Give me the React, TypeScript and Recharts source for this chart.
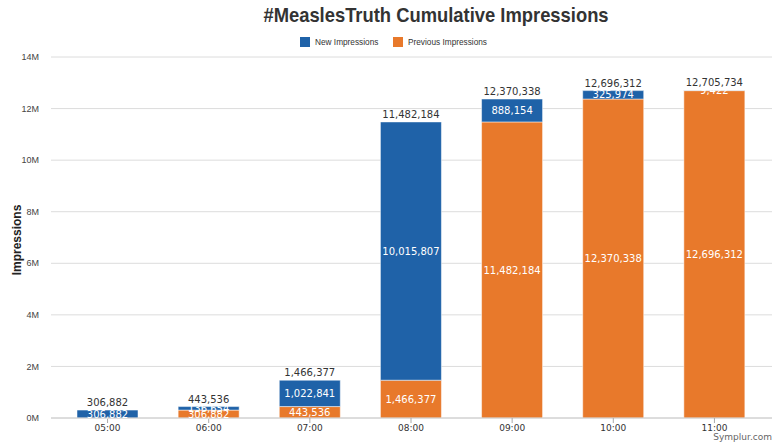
import { BarChart, Bar, XAxis, YAxis, CartesianGrid, LabelList } from 'recharts';

const hours = ['05:00', '06:00', '07:00', '08:00', '09:00', '10:00', '11:00'];
const previousImpressions = [0, 306882, 443536, 1466377, 11482184, 12370338, 12696312];
const newImpressions = [306882, 136654, 1022841, 10015807, 888154, 325974, 9422];
const yTicks = [0, 2000000, 4000000, 6000000, 8000000, 10000000, 12000000, 14000000];

const BLUE = '#1f62a8';
const ORANGE = '#e8792b';
const SANS = '"Liberation Sans", Arial, sans-serif';

const chartData = hours.map((hour, i) => ({
  hour,
  previous: previousImpressions[i],
  fresh: newImpressions[i],
  total: previousImpressions[i] + newImpressions[i],
}));

const fmt = (v: any) => (v ? Number(v).toLocaleString('en-US') : '');

function LegendItem({ color, text, x }: { color: string; text: string; x: number }) {
  return (
    <>
      <span style={{ position: 'absolute', left: x, top: 37, width: 10, height: 10, background: color }} />
      <span
        style={{
          position: 'absolute',
          left: x + 15,
          top: 36,
          fontFamily: SANS,
          fontSize: 9.5,
          color: '#333',
          whiteSpace: 'nowrap',
          transform: 'scaleX(0.87)',
          transformOrigin: 'left center',
        }}
      >
        {text}
      </span>
    </>
  );
}

export default function App() {
  return (
    <div style={{ position: 'absolute', left: 0, top: 0, width: 780, height: 447, background: '#fff' }}>
      <div
        style={{
          position: 'absolute',
          top: 3,
          left: 236,
          width: 400,
          textAlign: 'center',
          fontFamily: SANS,
          fontWeight: 'bold',
          fontSize: 21,
          color: '#333',
          whiteSpace: 'nowrap',
          transform: 'scaleX(0.875)',
        }}
      >
        #MeaslesTruth Cumulative Impressions
      </div>
      <LegendItem color={BLUE} text="New Impressions" x={300} />
      <LegendItem color={ORANGE} text="Previous Impressions" x={393} />
      <div
        style={{
          position: 'absolute',
          left: 17,
          top: 240,
          transform: 'translate(-50%, -50%) rotate(-90deg)',
          fontFamily: SANS,
          fontWeight: 'bold',
          fontSize: 12,
          color: '#222',
          whiteSpace: 'nowrap',
        }}
      >
        Impressions
      </div>
      <div
        style={{
          position: 'absolute',
          right: 8,
          top: 432,
          fontFamily: '"DejaVu Sans", sans-serif',
          fontSize: 9,
          color: '#666',
        }}
      >
        Symplur.com
      </div>
      <BarChart
        width={780}
        height={447}
        data={chartData}
        margin={{ top: 57, right: 8, bottom: 0, left: 0 }}
      >
        <CartesianGrid vertical={false} stroke="#dcdcdc" />
        <XAxis
          dataKey="hour"
          height={29}
          padding={{ left: 6, right: 7 }}
          tickLine={{ stroke: '#aaa' }}
          tickSize={5}
          axisLine={{ stroke: '#ccc' }}
          tick={{ fontSize: 9, fill: '#333', fontFamily: '"DejaVu Sans", sans-serif' }}
        />
        <YAxis
          width={51}
          domain={[0, 14000000]}
          ticks={yTicks}
          axisLine={false}
          tickLine={false}
          tickMargin={6}
          tickFormatter={(v: number) => `${v / 1000000}M`}
          tick={{ fontSize: 9, fill: '#444', fontFamily: SANS }}
        />
        <Bar dataKey="previous" stackId="a" fill={ORANGE} barSize={61} stroke="#fff" strokeWidth={0.5} isAnimationActive={false}>
          <LabelList
            dataKey="previous"
            position="center"
            formatter={fmt}
            style={{ fill: '#fff', fontSize: 10, fontFamily: '"DejaVu Sans", sans-serif' }}
          />
        </Bar>
        <Bar dataKey="fresh" stackId="a" fill={BLUE} barSize={61} stroke="#fff" strokeWidth={0.5} isAnimationActive={false}>
          <LabelList
            dataKey="fresh"
            position="center"
            formatter={fmt}
            style={{ fill: '#fff', fontSize: 10, fontFamily: '"DejaVu Sans", sans-serif' }}
          />
          <LabelList
            dataKey="total"
            position="top"
            offset={4}
            formatter={fmt}
            style={{ fill: '#333', fontSize: 10, fontFamily: '"DejaVu Sans", sans-serif' }}
          />
        </Bar>
      </BarChart>
    </div>
  );
}
